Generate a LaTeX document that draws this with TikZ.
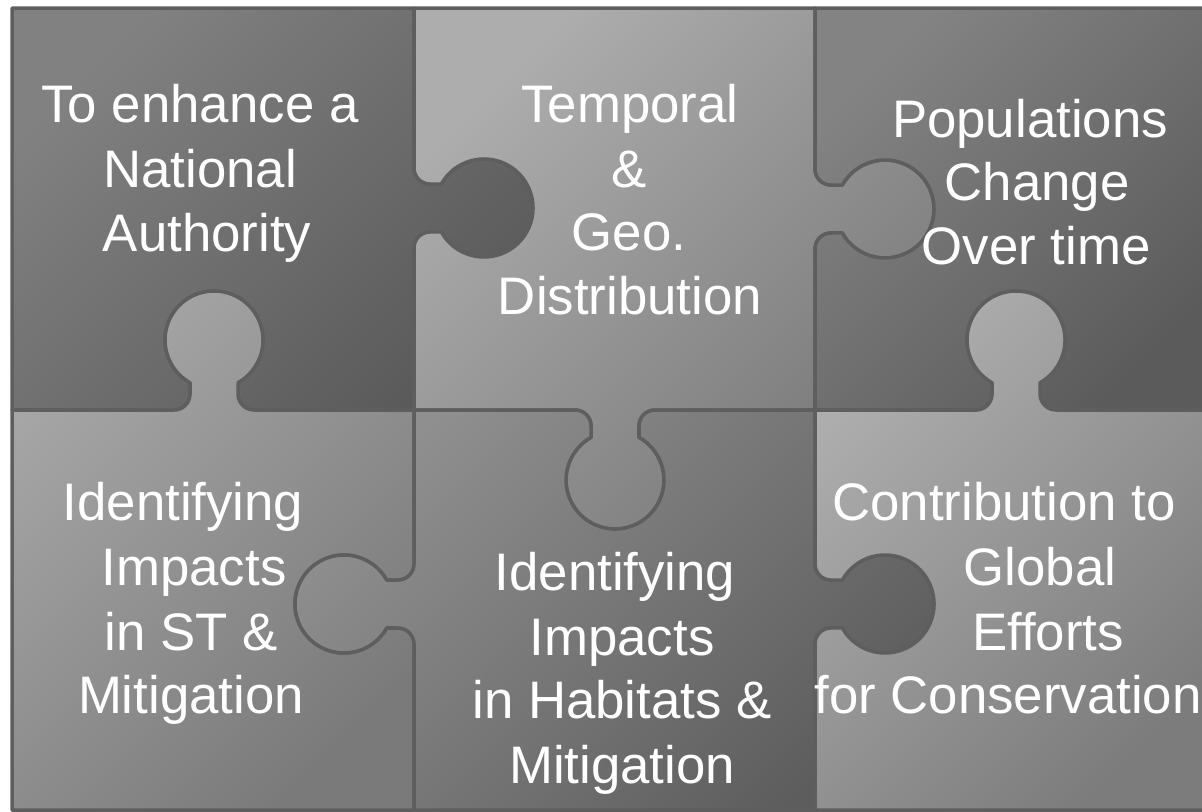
\documentclass[tikz,border=0pt]{standalone}
\usepackage{fontspec}
\setmainfont{Liberation Sans}
\definecolor{edge}{HTML}{5E5E5E}
\definecolor{aT}{HTML}{818181}\definecolor{aB}{HTML}{5A5A5A}
\definecolor{bT}{HTML}{ADADAD}\definecolor{bB}{HTML}{787878}
\definecolor{cT}{HTML}{838383}\definecolor{cB}{HTML}{5B5B5B}
\definecolor{dT}{HTML}{A6A6A6}\definecolor{dB}{HTML}{7A7A7A}
\definecolor{eT}{HTML}{8F8F8F}\definecolor{eB}{HTML}{5D5D5D}
\definecolor{fT}{HTML}{AEAEAE}\definecolor{fB}{HTML}{7C7C7C}
\tikzset{
  tabp/.style n args={4}{insert path={
    -- ([shift={({#3+180}:40)}]#1,#2)
    arc[start angle={#3+(#4)*(-90)}, delta angle={(#4)*90}, radius=16]
    -- ++({#3+(#4)*90}:11.3)
    arc[start angle={#3+(#4)*240.7}, delta angle={(#4)*(-301.4)}, radius=49]
    -- ++({#3-(#4)*90}:11.3)
    arc[start angle={#3+(#4)*180}, delta angle={(#4)*90}, radius=16]
  }},
  piece/.style 2 args={draw=edge, line width=1.75pt, line join=round,
    top color=#1, bottom color=#2, shading angle=45},
  txt/.style={text=white, anchor=base, inner sep=0pt,
    font=\fontsize{26.4}{32}\selectfont},
}
\begin{document}
\begin{tikzpicture}[x=0.5pt, y=0.5pt]
\useasboundingbox (0,0) rectangle (1202,-811);
\clip (0,0) rectangle (1202,-811);
% piece A (top left)
\shadedraw[piece={aT}{aB}] (12,-8) -- (12,-410) [tabp={214}{-410}{0}{1}]
  -- (414,-410) [tabp={414}{-208}{90}{-1}] -- (414,-8) -- cycle;
% piece B (top middle)
\shadedraw[piece={bT}{bB}] (414,-8) [tabp={414}{-208}{270}{1}]
  -- (414,-410) [tabp={615}{-410}{0}{-1}]
  -- (815,-410) [tabp={815}{-209}{90}{-1}] -- (815,-8) -- cycle;
% piece C (top right)
\shadedraw[piece={cT}{cB}] (815,-8) [tabp={815}{-209}{270}{1}]
  -- (815,-410) [tabp={1016}{-410}{0}{1}]
  -- (1216,-410) -- (1216,-8) -- cycle;
% piece D (bottom left)
\shadedraw[piece={dT}{dB}] (12,-410) -- (12,-810) -- (414,-810)
  [tabp={414}{-604}{90}{1}] -- (414,-410)
  [tabp={214}{-410}{180}{-1}] -- cycle;
% piece E (bottom middle)
\shadedraw[piece={eT}{eB}] (414,-410) [tabp={414}{-604}{270}{-1}]
  -- (414,-810) -- (815,-810) [tabp={815}{-604}{90}{-1}]
  -- (815,-410) [tabp={615}{-410}{180}{1}] -- cycle;
% piece F (bottom right)
\shadedraw[piece={fT}{fB}] (815,-410) [tabp={815}{-604}{270}{1}]
  -- (815,-810) -- (1216,-810) -- (1216,-410)
  [tabp={1016}{-410}{180}{-1}] -- cycle;
% texts
\node[txt] (a1) at (200,-122) {To enhance a};
\node[txt] (a2) at (200,-187) {National};
\node[txt] (a3) at (207,-251) {Authority};
\node[txt] (b1) at (630,-122) {Temporal};
\node[txt] (b2) at (629,-187) {\&};
\node[txt] (b3) at (629,-250) {Geo.};
\node[txt] (b4) at (630,-314) {Distribution};
\node[txt] (c1) at (1030,-137) {Populations};
\node[txt] (c2) at (1037,-200) {Change};
\node[txt] (c3) at (1036,-264) {Over time};
\node[txt] (d1) at (183,-520) {Identifying};
\node[txt] (d2) at (194,-585) {Impacts};
\node[txt] (d3) at (191,-650) {in ST \&};
\node[txt] (d4) at (191,-713) {Mitigation};
\node[txt] (e1) at (615,-590) {Identifying};
\node[txt] (e2) at (622,-655) {Impacts};
\node[txt] (e3) at (622,-718) {in Habitats \&};
\node[txt] (e4) at (622,-783) {Mitigation};
\node[txt] (f1) at (1004,-520) {Contribution to};
\node[txt] (f2) at (1040,-585) {Global};
\node[txt] (f3) at (1048,-650) {Efforts};
\node[txt] (f4) at (1008,-713) {for Conservation};
\end{tikzpicture}
\end{document}
